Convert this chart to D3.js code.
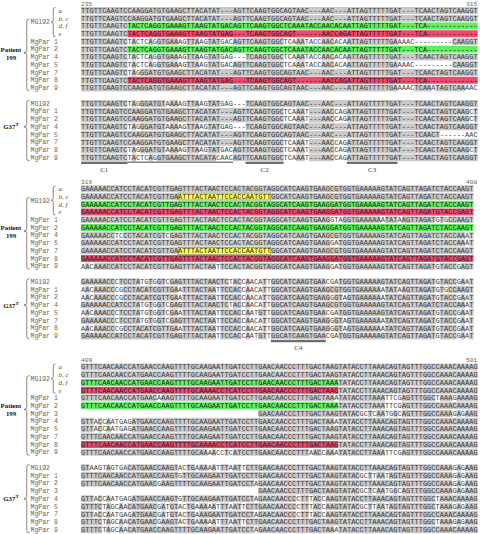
<!DOCTYPE html>
<html><head><meta charset="utf-8">
<script src="https://cdn.jsdelivr.net/npm/d3@7"></script>
<style>body{margin:0;background:#fff;} svg{display:block;}</style>
</head><body>
<svg id="chart" width="480" height="534"></svg>
<script>
// ---------------- DATA ----------------
const block1Range = [235, 315];
const block1Patient = ['a','b, c','d, f','e','MgPar 1','MgPar 2','MgPar 4','MgPar 5','MgPar 7','MgPar 8','MgPar 9'];
const block1Strain = ['MG192','MgPar 1','MgPar 2','MgPar 4','MgPar 5','MgPar 7','MgPar 8','MgPar 9'];
const block1Seqs = [
  "TTGTTCAAGTC"+"CAAGGATGTGAAGCTTACATAT"+"---"+"AGTTCAAGTGGCAGTAAC"+"---"+"AAC"+"---"+"ATTAGTTTTTGAT"+"---"+"TCAACTAGTCAAGGT",
  "TTGTTCAAGTC"+"CAAGGATGTGAAGCTTACATAT"+"---"+"AGTTCAAGTGGCAGTAAC"+"---"+"AAC"+"---"+"ATTAGTTTTTGAT"+"---"+"TCAACTAGTCAAGGT",
  "TTGTTCAAGTC"+"TACTCAGGTGAAAGTTAAGTATGAC"+"AGTTCAAGTGGC"+"TCAAATACCAACACA"+"ATTAGTTTTTGAT"+"---"+"TCA"+"------------",
  "TTGTTCAAGTC"+"TACTCAGGTGAAAGTTAAGTATGAG"+"---"+"TCAAGTGGCAGT"+"------"+"AACCAG"+"ATTAGTTTTTGAT"+"---"+"TCA"+"------------",
  "TTGTTCAAGTC"+"TACTCAGGTGAAAGTTAAGTATGAC"+"AGTTCAAGTGGC"+"TCAAATACCAACACA"+"ATTAGTTTTTGA"+"AAAC"+"---------"+"CAAGGT",
  "TTGTTCAAGTC"+"TACTCAGGTGAAAGTTAAGTATGAC"+"AGTTCAAGTGGC"+"TCAAATACCAACACA"+"ATTAGTTTTTGAT"+"---"+"TCA"+"------------",
  "TTGTTCAAGTC"+"TACTCAGGTGAAAGTTAAGTATGAG"+"---"+"TCAAGTGGC"+"TCAAATACCAACACA"+"ATTAGTTTTTGAT"+"---"+"TCAACTAGTCAAGGT",
  "TTGTTCAAGTC"+"TACTCAGGTGAAAGTTAAGTATGAC"+"AGTTCAAGTGGC"+"TCAAATACCAACACA"+"ATTAGTTTTTGA"+"AAAC"+"---------"+"CAAGGT",
  "TTGTTCAAGTC"+"TAGGGATGTGAAGCTTACATAT"+"---"+"AGTTCAAGTGGCAGTAAC"+"---"+"AAC"+"---"+"ATTAGTTTTTGAT"+"---"+"TCAACTAGTCAAGGT",
  "TTGTTCAAGTC"+"TACTCAGGTGAAAGTTAAGTATGAG"+"---"+"TCAAGTGGCAGT"+"------"+"AACCAG"+"ATTAGTTTTTGAT"+"---"+"TCA"+"------------",
  "TTGTTCAAGTC"+"CAAGGATGTGAAGCTTACATAT"+"---"+"AGTTCAAGTGGCAGTAAC"+"---"+"AAC"+"---"+"ATTAGTTTTTGA"+"AAAC"+"TCAAATAGTCAAAAC",
  "TTGTTCAAGTC"+"TAGGGATGTAAAAGTTAAGTATGAG"+"---"+"TCAAGTGGCAGTAAC"+"---AAC---"+"ATTAGTTTTTGAT---TCAACTAGTCAAGGT",
  "TTGTTCAAGTC"+"CAAGGATGTGAAGCTTACATAT"+"---"+"AGTTCAAGTGGC"+"TCAAAT"+"---"+"AACCAG"+"ATTAGTTTTTGAT---"+"TCAACTAGTCAAGCT",
  "TTGTTCAAGTC"+"CAAGGATGTGAAGCTTACATAT"+"---"+"AGTTCAAGTGGC"+"TCAAAT"+"---"+"AACCAG"+"ATTAGTTTTTGAT---"+"TCAACTAGTCAAGCT",
  "TTGTTCAAGTC"+"TAGGGATGTAAAAGTTAAGTATGAG"+"---"+"TCAAGTGGCAGTAAC"+"---AAC---"+"ATTAGTTTTTGAT---TCAACTAGTCAAGGT",
  "TTGTTCAAGTC"+"CAAGGATGTGAAGCTTACATAT"+"---"+"AGTTCAAGTGGCAGTAAC"+"---"+"AAC"+"---"+"ATTAGTTTTTGAT---"+"TCAACT"+"------"+"AAC",
  "TTGTTCAAGTC"+"CAAGGATGTGAAGCTTACATAT"+"---"+"AGTTCAAGTGGC"+"TCAAAT"+"---"+"AACCAG"+"ATTAGTTTTTGAT---"+"TCAACTAGTCAAGGT",
  "TTGTTCAAGTC"+"TAGGGATGTAAAAGTTAAGTATGAC"+"AGTTCAAGTGGC"+"TCAAAT---AACCAG"+"ATTAGTTTTTGAT---"+"TCAACTAGTCAAGCT",
  "TTGTTCAAGTC"+"TACTCAGGTGAAGCTTACATACAAC"+"AGTTCAAGTGGC"+"TCAAAT---AACCAG"+"ATTAGTTTTTGAT---"+"TCAACTAGTCAAGGT"
];
// [row, first column, end column, kind]
const block1Marks = [[2,11,94,'G'],[3,11,94,'R'],[5,11,94,'G'],[9,11,94,'R']];
const block1Bars = [['C1',0,11],['C2',39,48],['C3',63,75]];
const block1Underlines = [[11,36]];

const block2Range = [316, 408];
const block2Patient = ['a','b, c','d, f','e','MgPar 1','MgPar 2','MgPar 4','MgPar 5','MgPar 7','MgPar 8','MgPar 9'];
const block2Strain = ['MG192','MgPar 1','MgPar 2','MgPar 4','MgPar 5','MgPar 7','MgPar 8','MgPar 9'];
const block2Seqs = [
  "GAAAAACCATCCTACATCGTTGA"+"GTTTACTAACTCCACTACGGTA"+"GGCATCAAGTGAAG"+"CGTGGTGAAAAAGTATCAGTTAGATCTACCAAGT",
  "GAAAAACCATCCTACATCGTTGA"+"ATTTACTAATTCCACCAATGTT"+"GGCATCAAGTGAAG"+"CGTGGTGAAAAAGTATCAGTTAGATCTACCAAGT",
  "GAAAAACCATCCTACATCGTTGA"+"GTTTACTAACTCCACTACGGTA"+"GGCATCAAGTGAAG"+"GATGGTGAAAAAGTATCAGTTAGATCTACCAAGT",
  "GAAAAACCATCCTACATCGTTGA"+"GTTTACTAACTCCACTACGGTA"+"GGCATCAAGTGAAG"+"GATGGTGAAAAAGTATCAGTTAGATGTACCGAGT",
  "GAAAAACCATCCTACATCGTTGA"+"GTTTACTAACTCCACTACGGTA"+"GGCATCAAGTGAAG"+"GTAGGTGAAAAAATATAAGTTAGATGTGCCAAGT",
  "GAAAAACCATCCTACATCGTTGA"+"GTTTACTAACTCCACTACGGTA"+"GGCATCAAGTGAAG"+"GATGGTGAAAAAGTATCAGTTAGATCTACCAAGT",
  "GAAAAACCTCCCTACATCGTCGA"+"GTTTACTAACTCCACTACGGTA"+"GGCATCAAGTGAAG"+"CGTGGTGAAAAAGTATCAGTTAGATCTACCAAAT",
  "GAAAAACCATCCTACATCGTTGA"+"GTTTACTAACTCCACTACGGTA"+"GGCATCAAGTGAAG"+"GATGGTGAAAAAGTATCAGTTAGATCTACCAAAT",
  "GAAAAACCATCCTACATCGTTGA"+"ATTTACTAATTCCACCAATGTT"+"GGCATCAAGTGAAG"+"CGTGGTGAAAAAGTATCAGTTAGATCTACCAAGT",
  "GAAAAACCATCCTACATCGTTGA"+"GTTTACTAACTCCACTACGGTA"+"GGCATCAAGTGAAG"+"GATGGTGAAAAAGTATCAGTTAGATGTACCGAGT",
  "AACAAACCATCCTACATCGTTGA"+"GTTTACTAATTCCACTACGGTA"+"GGCATCAAGTGAAG"+"GATGGTGAAAAAGTATCAGTTAGATGTACCGAGT",
  "GAAAAACCCTCCTATGTGGTCGA"+"GTTTACTAACTCTACCAACATT"+"GGCATCAAGTGAAC"+"GATGGTGAAAAAGTATCAGTTAGATGTACCGAAT",
  "AACAAACCCGCCTACATCGTTGA"+"ATTTACTAATTCCACCAACATT"+"GGCATCAAGTGAAG"+"CGTGGTGAAAAAATATAAGTTAGATGTGCCAAGT",
  "AACAAACCCGCCTACATCGTTGA"+"ATTTACTAATTCCACCAACATT"+"GGCATCAAGTGAAG"+"GGTAGTGAAAAAATATCAGTTAGATGTACCGAAT",
  "GAAAAACCATCCTATGTGGTCGA"+"GTTTACTAACTCTACCAACATT"+"GGCATCAAGTGAAG"+"CGTGGTGAAAAAGTATCAGTTAGATCTACCAAAT",
  "AACAAACCCTCCTATGTGGTCGA"+"ATTTACTAATTCCACCAATGTT"+"GGCATCAAGTGAAC"+"GATGGTGAAAAAGTATCAGTTAGATGTACCGAAT",
  "GAAAAACCCTCCTATGTGGTCGA"+"GTTTACTAATTCCACCAACATT"+"GGCATCAAGTGAAG"+"GGTAGTGAAAAAATATCAGTTAGATGTACCGAAT",
  "AACAAACCCGCCTACATCGTTGA"+"ATTTACTAATTCCACCAACATT"+"GGCATCAAGTGAAG"+"GGTAGTGAAAAAATATCAGTTAGATGTACCGAAT",
  "GAAAAACCATCCTACATCGTTGA"+"GTTTACTAATTCCACCAATGTT"+"GGCATCAAGTGAAC"+"GATGGTGAAAAAGTATCAGTTAGATGTACCGAAT"
];
const block2Marks = [[1,23,45,'Y'],[2,0,93,'G'],[3,0,93,'R'],[5,0,93,'G'],[8,23,45,'Y'],[9,0,93,'R']];
const block2Bars = [['C4',45,58]];
const block2Underlines = [];

const block3Range = [409, 501];
const block3Patient = ['a','b, c','d, f','e','MgPar 1','MgPar 2','MgPar 3','MgPar 4','MgPar 5','MgPar 7','MgPar 8','MgPar 9'];
const block3Strain = ['MG192','MgPar 1','MgPar 2','MgPar 3','MgPar 4','MgPar 5','MgPar 7','MgPar 8','MgPar 9'];
const block3Seqs = [
  "GTTTCAACAACCATGAACCAAGTTTTGCAAGAATTGATCC"+"TTGAACAACCCTTTGACTAA"+"G"+"TATACCTTAAACAGTAGTTTGGCCAAACAAAAG",
  "GTTTCAACAACCATGAACCAAGTTTTGCAAGAATTGATCC"+"TTGAACAACCCTTTGACTAA"+"G"+"TATACCTTAAACAGTAGTTTGGCCAAACAAAAG",
  "GTTTCAACAACCATGAACCAAGTTTTGCAAGAATTGATCC"+"TTGAACAACCCTTTGACTAA"+"A"+"TATACCTTAAACAGTAGTTTGGCCAAACAAAAG",
  "GTTTCAACAACCATGAACCAAGTTTTGCAAAACCTCATCC"+"TTGAACAACCCTTTGACTAA"+"G"+"TATACCTTAAACAGTAGTTTGGCCAAACAAAAG",
  "GTTTCAACAACCATGAACAAAGTTTTGCAAGAATTGATCC"+"TTGAACAACCCTTTGACTAA"+"A"+"TATACCTTAAATTCGAGTTTGGCTAAAGAAAAG",
  "GTTTCAACAACCATGAACCAAGTTTTGCAAGAATTGATCC"+"TTGAACAACCCTTTGACTAA"+"A"+"TATACCTTAAATTCGAGTTTGGCCAAACAAAAG",
  " ".repeat(42)+"GAACAACCCTTTGACTAA"+"G"+"TATACGCTCAATGGCAGTTTGGCCAAAGAGAAG",
  "GTTACCAATGAGATGAACCAAGTTTTGCAAGAATTGATCC"+"TTGAACAACCCTTTGACTAA"+"A"+"TATACCTTAAACAGTAGTTTGGCCAAACAAAAG",
  "GTTACCAATGAGATGAACCAAGTTTTGCAAGAATTGATCC"+"TTGAACAACCCTTTGACTAA"+"G"+"TATACCTTAAACAGTAGTTTGGCCAAACAAAAG",
  "GTTTCAACAACCATGAACCAAGTTTTGCAAGAATTGATCC"+"TTGAACAACCCTTTGACTAA"+"G"+"TATACCTTAAACAGTAGTTTGGCCAAACAAAAG",
  "GTTTCAACAACCATGAACCAAGTTTTGCAAAACCTCATCC"+"TTGAACAACCCTTTGACTAA"+"G"+"TATACCTTAAACAGTAGTTTGGCCAAACAAAAG",
  "GTTTCAACAACCATGAACCAAGTTTTGCAAAACCTCATCC"+"TTGAACAACCCTTTAACCAA"+"A"+"TATACCTTAAATTCGAGTTTGGCCAAACAAAAG",
  "GTAAGTAGTGACATGAACCAAGTACTGAAAAATTTAATTC"+"TTGAACAACCCTTTGACTAA"+"G"+"TATACCTTAAACAGTAGTTTGGCCAAAGAGAAG",
  "GTTTCAACAACCATGAACCAAGTGTTGCAAGAATTGATCC"+"TTGAACAACCCTTTGACTAA"+"G"+"TATACGCTTAATAGTAGTTTGGCCAAAGAGAAG",
  "GTTTCAACAACCATGAACGAAGTTTTGCAAGAATTGATCC"+"TAGAACAACCCTTTGACTAA"+"G"+"TATACCTTAAACAGTAGTTTGGCCAAAGAGAAG",
  " ".repeat(42)+"GAACAACCCTTTGACTAA"+"G"+"TATACGCTCAATGGCAGTTTGGCCAAAGAGAAG",
  "GTTACCAATGAGATGAACCAAGTGTTGCAAGAATTGATCC"+"TAGAACAACCCCTTTACCAA"+"G"+"TATACCTTAAACAGTAGTTTGGCTAAACAAAAG",
  "GTTTCTAGCAACATGAACGATGTACTGAAAAATTTAATTC"+"TTGAACAACCCCTTTACCAA"+"G"+"TATACGCTTAATAGTAGTTTGGCTAAAGAGAAG",
  "GTTACCAATGAGATGAACGATGTACTGAAAGAATTGATCC"+"TAGAACAACCCCTTTACCAA"+"G"+"TATACCTTAAACAGTAGTTTGGCCAAACAAAAG",
  "GTTTCTAGCAACATGAACGAAGTACTGAAAAATTTAATTC"+"TTGAACAACCCTTTGACTAA"+"G"+"TATACCTTAAACAGTAGTTTGGCTAAAGAGAAG",
  "GTTTCTAGCAACATGAACCAAGTTTTGCAAGAATTGATCC"+"TAGAACAACCCTTTGACTAA"+"A"+"TATACCTTAAACAGTAGTTTGGCCAAACAAAAG"
];
const block3Marks = [[2,0,61,'G'],[3,0,61,'R'],[5,0,61,'G'],[10,0,61,'R']];
const block3Bars = [];
const block3Underlines = [];

const groupNames = ['Patient', '199', 'G37', 'T'];

// ---------------- DRAWING ----------------
const svg = d3.select('#chart');
const NCOL = 94;
const x = d3.scaleLinear().domain([0, NCOL]).range([81, 477.7]);
const CW = x(1) - x(0);
const PITCH = 7.75, BAND = 7.0;
const fill = d3.scaleOrdinal()
  .domain(['ref', 'G', 'R', 'Y'])
  .range(['#c9c9c9', '#5df05d', '#eb4b6d', '#ffff50']);
const MONO = "'Liberation Mono','DejaVu Sans Mono',monospace";
const SERIF = "'Liberation Serif','DejaVu Serif',serif";

function brace(x0, xt, y0, y1, ym) {
  const xm = (x0 + xt) / 2, r = Math.min(2.2, (y1 - y0) / 4);
  return `M${x0},${y0} Q${xm},${y0} ${xm},${y0 + r} L${xm},${ym - r} Q${xm},${ym} ${xt},${ym}` +
         ` Q${xm},${ym} ${xm},${ym + r} L${xm},${y1 - r} Q${xm},${y1} ${x0},${y1}`;
}

const blocks = [
  {range: block1Range, patient: block1Patient, strain: block1Strain, seqs: block1Seqs, marks: block1Marks, bars: block1Bars, lines: block1Underlines, top: 10.5},
  {range: block2Range, patient: block2Patient, strain: block2Strain, seqs: block2Seqs, marks: block2Marks, bars: block2Bars, lines: block2Underlines, top: 188.75},
  {range: block3Range, patient: block3Patient, strain: block3Strain, seqs: block3Seqs, marks: block3Marks, bars: block3Bars, lines: block3Underlines, top: 367}
];

blocks.forEach(b => {
  const nP = b.patient.length;
  const slotOf = i => i < nP ? i : i + 1;
  const y = d3.scaleLinear().domain([0, 1]).range([b.top, b.top + PITCH]);
  const g = svg.append('g');
  const ref = b.seqs[0];

  // header numbers
  g.append('text').attr('x', x(0)).attr('y', y(-1) + 3.2)
    .attr('font-family', MONO).attr('font-size', 6.2).attr('fill', '#666').text(b.range[0]);
  g.append('text').attr('x', x(NCOL) - 0.5).attr('y', y(-1) + 3.2).attr('text-anchor', 'end')
    .attr('font-family', MONO).attr('font-size', 6.2).attr('fill', '#666').text(b.range[1]);

  const bgG = g.append('g'), txG = g.append('g');
  b.seqs.forEach((s, i) => {
    const cy = y(slotOf(i));
    const cats = s.split('').map((ch, c) => {
      if (ch === ' ') return null;
      const m = b.marks.find(m => m[0] === i && c >= m[1] && c < m[2]);
      if (m) return m[3];
      return ch === ref[c] ? 'ref' : 'diff';
    });
    const runs = [];
    let st = 0;
    for (let c = 1; c <= s.length; c++) {
      if (c === s.length || cats[c] !== cats[st]) { runs.push({k: cats[st], a: st, b: c}); st = c; }
    }
    bgG.selectAll(null).data(runs.filter(r => r.k && r.k !== 'diff')).join('rect')
      .attr('x', r => x(r.a)).attr('width', r => x(r.b) - x(r.a))
      .attr('y', cy - BAND / 2).attr('height', BAND)
      .attr('fill', r => fill(r.k))
      .attr('stroke', r => r.k === 'Y' ? '#6a6a3a' : 'none')
      .attr('stroke-width', 0.6);
    txG.selectAll(null).data(s.split('').map((ch, c) => ({ch, c})).filter(d => d.ch !== ' ')).join('text')
      .attr('x', d => x(d.c) + CW / 2).attr('y', cy + 2.3)
      .attr('text-anchor', 'middle')
      .attr('font-family', MONO).attr('font-size', 6.9)
      .attr('fill', d => (cats[d.c] === 'G' || cats[d.c] === 'R' || cats[d.c] === 'Y') ? '#1e1e1e' : '#3c3c3c')
      .text(d => d.ch);
  });

  // row labels
  const lab = g.append('g').attr('font-family', MONO).attr('font-size', 6.5).attr('fill', '#666');
  const mgY = (y(0) + y(3)) / 2;
  lab.append('text').attr('x', 30.5).attr('y', mgY + 2.2).text('MG192');
  b.patient.forEach((n, i) => {
    if (i < 4) {
      g.append('text').attr('x', 58.5).attr('y', y(i) + 2.3)
        .attr('font-family', SERIF).attr('font-style', 'italic').attr('font-size', 7).attr('fill', '#555').text(n);
    } else {
      lab.append('text').attr('x', 30.5).attr('y', y(i) + 2.2).text(n);
    }
  });
  b.strain.forEach((n, j) => {
    lab.append('text').attr('x', 30.5).attr('y', y(nP + 1 + j) + 2.2).text(n);
  });

  // group label anchor rows
  const pRow = b.patient.indexOf('MgPar 2');
  const pTipY = y(pRow) + 3.6;
  const sRow = nP + 1 + b.strain.indexOf('MgPar 4');
  const sTipY = y(sRow);

  // braces
  const br = g.append('g').attr('fill', 'none').attr('stroke', '#555').attr('stroke-width', 0.7);
  br.append('path').attr('d', brace(55.5, 51, y(0) - 3, y(3) + 3, mgY));
  const pTop = mgY - 3, pBot = y(nP - 1) + 3;
  br.append('path').attr('d', brace(29.5, 24, pTop, pBot, pTipY));
  const sTop = y(nP + 1) - 3, sBot = y(nP + b.strain.length) + 3;
  br.append('path').attr('d', brace(29.5, 24, sTop, sBot, sTipY));

  // group labels
  const gl = g.append('g').attr('font-family', SERIF).attr('font-weight', 'bold').attr('font-size', 6.8).attr('fill', '#111').attr('text-anchor', 'middle');
  gl.append('text').attr('x', 11).attr('y', y(pRow) + 2.4).text(groupNames[0]);
  gl.append('text').attr('x', 11).attr('y', y(pRow + 1) + 2.6).text(groupNames[1]);
  const gt = gl.append('text').attr('x', 11).attr('y', sTipY + 2.6);
  gt.append('tspan').text(groupNames[2]);
  gt.append('tspan').attr('font-size', 5).attr('dy', -3).text(groupNames[3]);

  // conserved-region bars and underline
  const lastY = y(nP + b.strain.length);
  g.selectAll(null).data(b.bars).join('line')
    .attr('x1', d => x(d[1])).attr('x2', d => x(d[2]))
    .attr('y1', lastY + 5.2).attr('y2', lastY + 5.2)
    .attr('stroke', '#6e6e6e').attr('stroke-width', 2.2);
  g.selectAll(null).data(b.bars).join('text')
    .attr('x', d => (x(d[1]) + x(d[2])) / 2).attr('y', lastY + 14)
    .attr('text-anchor', 'middle').attr('font-family', SERIF).attr('font-size', 7).attr('fill', '#444')
    .text(d => d[0]);
  g.selectAll(null).data(b.lines).join('line')
    .attr('x1', d => x(d[0])).attr('x2', d => x(d[1]))
    .attr('y1', lastY + 4.4).attr('y2', lastY + 4.4)
    .attr('stroke', '#111').attr('stroke-width', 0.8);
});
</script>
</body></html>
